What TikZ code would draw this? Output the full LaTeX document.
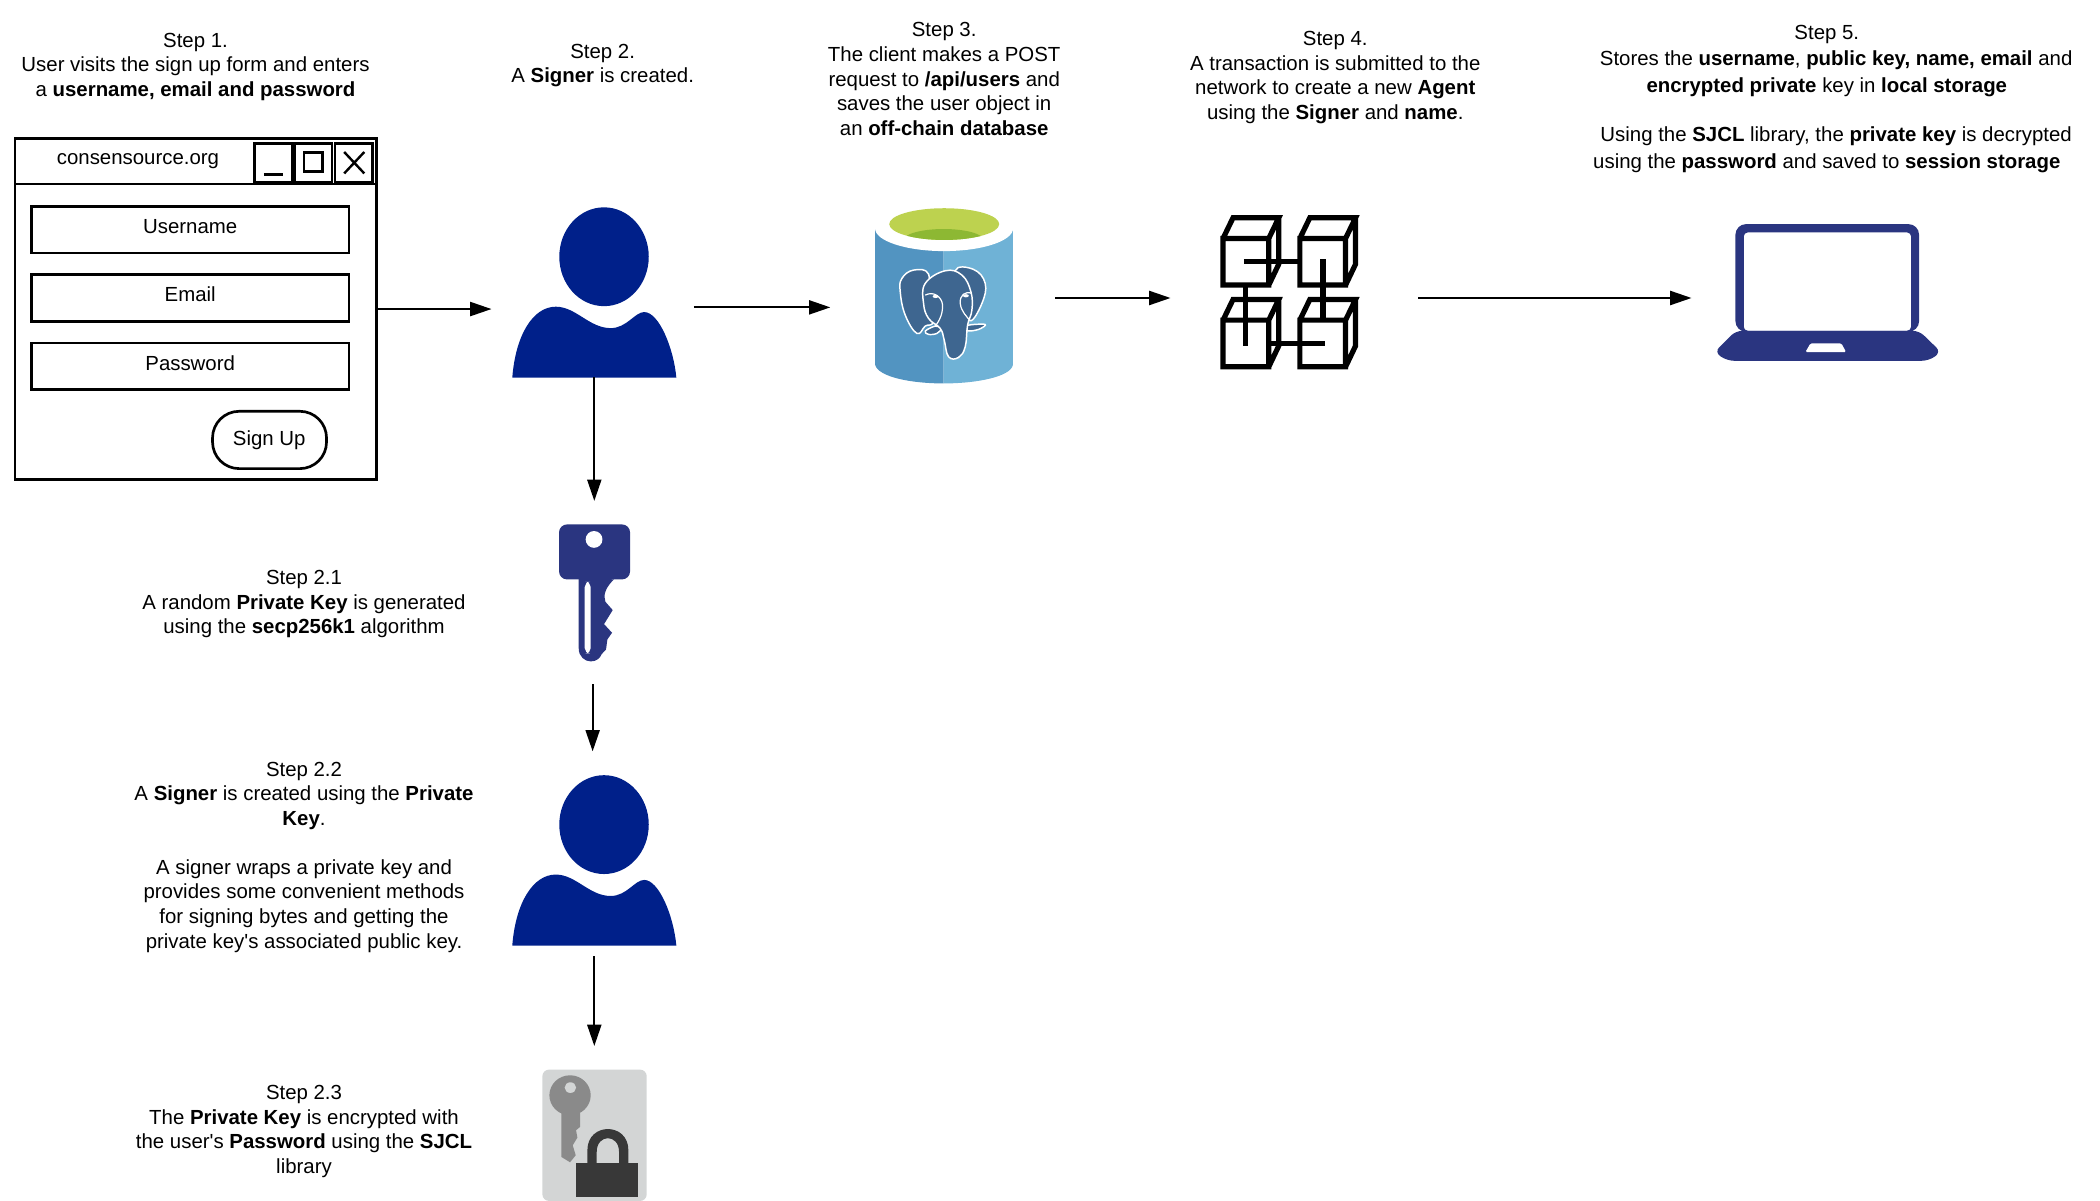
\documentclass[tikz,border=0pt]{standalone}
\usepackage{fontspec}
\setmainfont{Liberation Sans}
\usetikzlibrary{arrows.meta}
\definecolor{navy}{HTML}{00208A}
\definecolor{indigo}{HTML}{2A3580}
\definecolor{cylL}{HTML}{5294C1}
\definecolor{cylR}{HTML}{6FB2D6}
\definecolor{eleph}{HTML}{3E6690}
\definecolor{lime}{HTML}{BDD24F}
\definecolor{limeD}{HTML}{8DB833}
\definecolor{lockbg}{HTML}{D3D5D5}
\definecolor{lockkey}{HTML}{8A8A8A}
\definecolor{lockdk}{HTML}{383838}
\tikzset{
  every node/.style={font=\fontsize{15.3pt}{18.4pt}\selectfont},
  txt/.style={align=center,inner sep=0pt},
  txtb/.style={align=center,inner sep=0pt,font=\fontsize{15.3pt}{20pt}\selectfont},
  box/.style={draw=black,line width=2pt,inner sep=0pt,outer sep=0pt},
  boxtext/.style={inner sep=0pt},
  iconbox/.style={inner sep=0pt,outer sep=0pt},
  arr/.style={line width=1.6pt,-{Stealth[length=16pt,width=10.5pt,inset=0pt]}},
  eleline/.style={draw=white,line width=1.1pt,fill=eleph,line join=round},
  chain/.style={line width=3.9pt,line join=miter,line cap=butt},
}
\newcommand{\personicon}[1]{%
  \begin{scope}[shift={(0,#1)}]
    \fill[navy] (451,191.7) ellipse [x radius=33.4,y radius=36.9];
    \fill[navy] (382.5,282) .. controls (385,250) and (398,229) .. (415,229)
      .. controls (430,229) and (440,245) .. (456,245)
      .. controls (468,245) and (474,233) .. (481,233)
      .. controls (492,233) and (503,260) .. (505,282) -- cycle;
  \end{scope}}
\newcommand{\cubeicon}[2]{%
  \draw[chain,shift={(#1,#2)}] (1072,145) rectangle (1200,285)
    (1072,145) -- (1100,83) -- (1228,83) -- (1200,145)
    (1228,83) -- (1228,222) -- (1200,285);}
\begin{document}
\begin{tikzpicture}[x=1.00446pt,y=-1.00446pt]
\useasboundingbox (0,0) rectangle (1568,896);
% step texts
\node[txt] (t1) at (146,50) {Step 1.\\User visits the sign up form and enters\\a \textbf{username, email and password}};
\node[txt] (t2) at (450,49) {Step 2.\\A \textbf{Signer} is created.};
\node[txt] (t3) at (705,59) {Step 3.\\The client makes a POST\\request to \textbf{/api/users} and\\saves the user object in\\an \textbf{off-chain database}};
\node[txt] (t4) at (997,58) {Step 4.\\A transaction is submitted to the\\network to create a new \textbf{Agent}\\using the \textbf{Signer} and \textbf{name}.};
\node[txtb] (t5a) at (1364,45.5) {Step 5.\\\hspace*{14pt}Stores the \textbf{username}, \textbf{public key, name, email} and\\\textbf{encrypted private} key in \textbf{local storage}};
\node[txtb] (t5b) at (1364,112) {\hspace*{14pt}Using the \textbf{SJCL} library, the \textbf{private key} is decrypted\\using the \textbf{password} and saved to \textbf{session storage}};
\node[txt] (t21) at (227,451) {Step 2.1\\A random \textbf{Private Key} is generated\\using the \textbf{secp256k1} algorithm};
\node[txt] (t22) at (227,640) {Step 2.2\\A \textbf{Signer} is created using the \textbf{Private}\\\textbf{Key}.\\[18.4pt]A signer wraps a private key and\\provides some convenient methods\\for signing bytes and getting the\\private key\textquotesingle s associated public key.};
\node[txt] (t23) at (227,845) {Step 2.3\\The \textbf{Private Key} is encrypted with\\the user\textquotesingle s \textbf{Password} using the \textbf{SJCL}\\library};
% window
\node[box,minimum width=271pt,minimum height=255.5pt] (win) at (146,230.75) {};
\draw[line width=2pt] (win.west |- 0,137.5) -- (win.east |- 0,137.5);
\node[boxtext] (wtitle) at (103,120) {consensource.org};
\node[box,minimum width=28pt,minimum height=29pt] (bmin) at (204,121.5) {};
\node[box,minimum width=28pt,minimum height=29pt] (bmax) at (234,121.5) {};
\node[box,minimum width=28pt,minimum height=29pt] (bcls) at (264,121.5) {};
\draw[line width=2pt] (197,130.5) -- (211,130.5);
\draw[line width=2pt] (227,114) rectangle (241,128);
\draw[line width=1.8pt] (257,113.5) -- (272,129.5) (272,113.5) -- (257,129.5);
\node[box,minimum width=238pt,minimum height=35pt] (fuser) at (142,171.5) {};
\node[box,minimum width=238pt,minimum height=35pt] (femail) at (142,222.5) {};
\node[box,minimum width=238pt,minimum height=35pt] (fpass) at (142,273.5) {};
\node[boxtext] (luser) at (142,169.5) {Username};
\node[boxtext] (lemail) at (142,220) {Email};
\node[boxtext] (lpass) at (142,271) {Password};
\node[box,rounded corners=20pt,minimum width=85.5pt,minimum height=43pt] (signup) at (201.25,328.5) {};
\node[boxtext] (lsign) at (201,328.5) {Sign Up};
% persons
\personicon{0}
\personicon{424}
\node[iconbox,minimum width=122.5pt,minimum height=127pt] (p1) at (443.75,218.5) {};
\node[iconbox,minimum width=122.5pt,minimum height=127pt] (p2) at (443.75,642.5) {};
% cylinder
\begin{scope}[shift={(642.3,149.4)},x=0.25pt,y=-0.25pt]
  \fill[cylL] (45,85) -- (45,495) .. controls (55,530) and (150,550) .. (250,550) -- (250,85) -- cycle;
  \fill[cylR] (250,85) -- (250,550) .. controls (350,550) and (450,530) .. (458,495) -- (458,85) -- cycle;
  \fill[white] (251.5,85) ellipse [x radius=51.75pt,y radius=17pt];
  \begin{scope}
    \clip (252,72) ellipse [x radius=41.25pt,y radius=11.9pt];
    \fill[lime] (80,20) rectangle (425,125);
    \fill[limeD] (250,120) ellipse [x radius=30pt,y radius=8.3pt];
  \end{scope}
  % elephant
  \draw[eleline] plot[smooth cycle,tension=.7] coordinates {(205,222) (160,210) (125,235) (120,275) (135,345) (170,400) (195,378) (218,365) (200,300)};
  \draw[eleline] plot[smooth cycle,tension=.7] coordinates {(285,212) (340,208) (375,250) (365,310) (330,362) (315,300)};
  \draw[eleline] plot[smooth cycle,tension=.6] coordinates {(195,393) (225,378) (243,385) (230,400) (205,403)};
  \draw[eleline] plot[smooth cycle,tension=.6] coordinates {(322,376) (375,373) (355,388) (322,392)};
  \draw[eleline] plot[smooth cycle,tension=.7] coordinates {(255,212) (305,225) (332,275) (335,330) (322,375) (315,440) (295,472) (265,470) (252,420) (240,385) (205,355) (190,310) (195,250)};
  \draw[white,line width=.9pt] (195,285) .. controls (220,272) and (245,290) .. (247,315) .. controls (248,345) and (235,365) .. (225,378);
  \draw[white,line width=.9pt] (335,280) .. controls (315,272) and (298,285) .. (300,310) .. controls (303,335) and (320,350) .. (330,362);
  \fill[white] (226,289) ellipse [x radius=2.2pt,y radius=1.2pt];
  \fill[white] (317,287) ellipse [x radius=2.2pt,y radius=1.2pt];
\end{scope}
% blockchain
\begin{scope}[shift={(627.3,141.9)},x=0.2679pt,y=-0.2501pt]
  \cubeicon{0}{0}
  \cubeicon{215}{0}
  \cubeicon{0}{245}
  \cubeicon{215}{245}
  \draw[chain] (1130,214) -- (1287,214);
  \draw[chain] (1352,208) -- (1352,390);
  \draw[chain] (1135,285) -- (1135,468);
  \draw[chain] (1205,460) -- (1358,460);
\end{scope}
\node[iconbox,minimum width=103pt,minimum height=131pt] (db) at (705,220.5) {};
\node[iconbox,minimum width=104pt,minimum height=114pt] (chainicon) at (963,218.5) {};
% laptop
\begin{scope}[shift={(1254.7,149.4)},x=0.25pt,y=-0.25pt]
  \fill[indigo,even odd rule,rounded corners=8pt] (165,395) -- (165,72) -- (716,72) -- (716,395) -- cycle
     [rounded corners=3pt] (190,392) -- (190,97) -- (692,97) -- (692,392) -- cycle;
  \fill[indigo,rounded corners=5pt] (166,392) -- (716,392) -- (782,456) -- (745,482) -- (140,482) -- (102,456) -- cycle;
  \fill[white,rounded corners=1pt] (390,430) -- (483,430) -- (497,456) -- (375,456) -- cycle;
\end{scope}
\node[iconbox,minimum width=164pt,minimum height=102pt] (laptop) at (1365,219) {};
% key
\begin{scope}[shift={(388.3,373.4)},x=0.25pt,y=-0.25pt]
  \fill[indigo,rounded corners=6pt] (117,73) rectangle (330,238);
  \fill[indigo] (176,230) -- (176,445) .. controls (176,470) and (195,484) .. (212,484)
     .. controls (228,484) and (240,475) .. (245,462) -- (258,448) -- (262,418) -- (276,398) -- (252,372) -- (278,330) -- (256,305)
     .. controls (248,285) and (258,260) .. (282,238) -- cycle;
  \fill[white,rounded corners=4pt] (194,245) rectangle (212,460);
  \fill[white] (222,118) circle [radius=6.3pt];
\end{scope}
\node[iconbox,minimum width=54pt,minimum height=103pt] (keyicon) at (444,443) {};
% locked key
\begin{scope}[shift={(388.3,784.2)},x=0.25pt,y=-0.25pt]
  \fill[lockbg,rounded corners=5pt] (67,452) -- (67,58) -- (380,58) -- (380,452) -- cycle;
  \fill[lockkey] (150,135) ellipse [x radius=15.5pt,y radius=15pt];
  \fill[lockkey] (124,180) -- (124,320) -- (150,336) -- (167,315) -- (158,285) -- (172,262) -- (168,240) -- (180,230) -- (180,180) -- cycle;
  \fill[lockbg] (151,112) ellipse [x radius=4.3pt,y radius=4pt];
  \fill[lockdk] (168,338) rectangle (355,440);
  \fill[lockdk] (202,340) -- (202,300) .. controls (202,215) and (325,215) .. (325,300) -- (325,340) -- (297,340) -- (297,305)
     .. controls (297,250) and (230,250) .. (230,305) -- (230,340) -- cycle;
\end{scope}
\node[iconbox,minimum width=78pt,minimum height=97pt] (lockicon) at (444,847.5) {};
% arrow ends
\coordinate (a1e) at (367,230.75);
\coordinate (a2s) at (518,229.5);
\coordinate (a2e) at (620,229.5);
\coordinate (a3s) at (788,222.5);
\coordinate (a3e) at (874,222.5);
\coordinate (a4s) at (1059,222.5);
\coordinate (a4e) at (1263,222.5);
\coordinate (a5e) at (443.75,374);
\coordinate (a6s) at (442.5,511);
\coordinate (a6e) at (442.5,561);
\coordinate (a7s) at (443.75,714);
\coordinate (a7e) at (443.75,781);
\draw[arr] (win.east) -- (a1e);
\draw[arr] (a2s) -- (a2e);
\draw[arr] (a3s) -- (a3e);
\draw[arr] (a4s) -- (a4e);
\draw[arr] (p1.south) -- (a5e);
\draw[arr] (a6s) -- (a6e);
\draw[arr] (a7s) -- (a7e);
\end{tikzpicture}
\end{document}
